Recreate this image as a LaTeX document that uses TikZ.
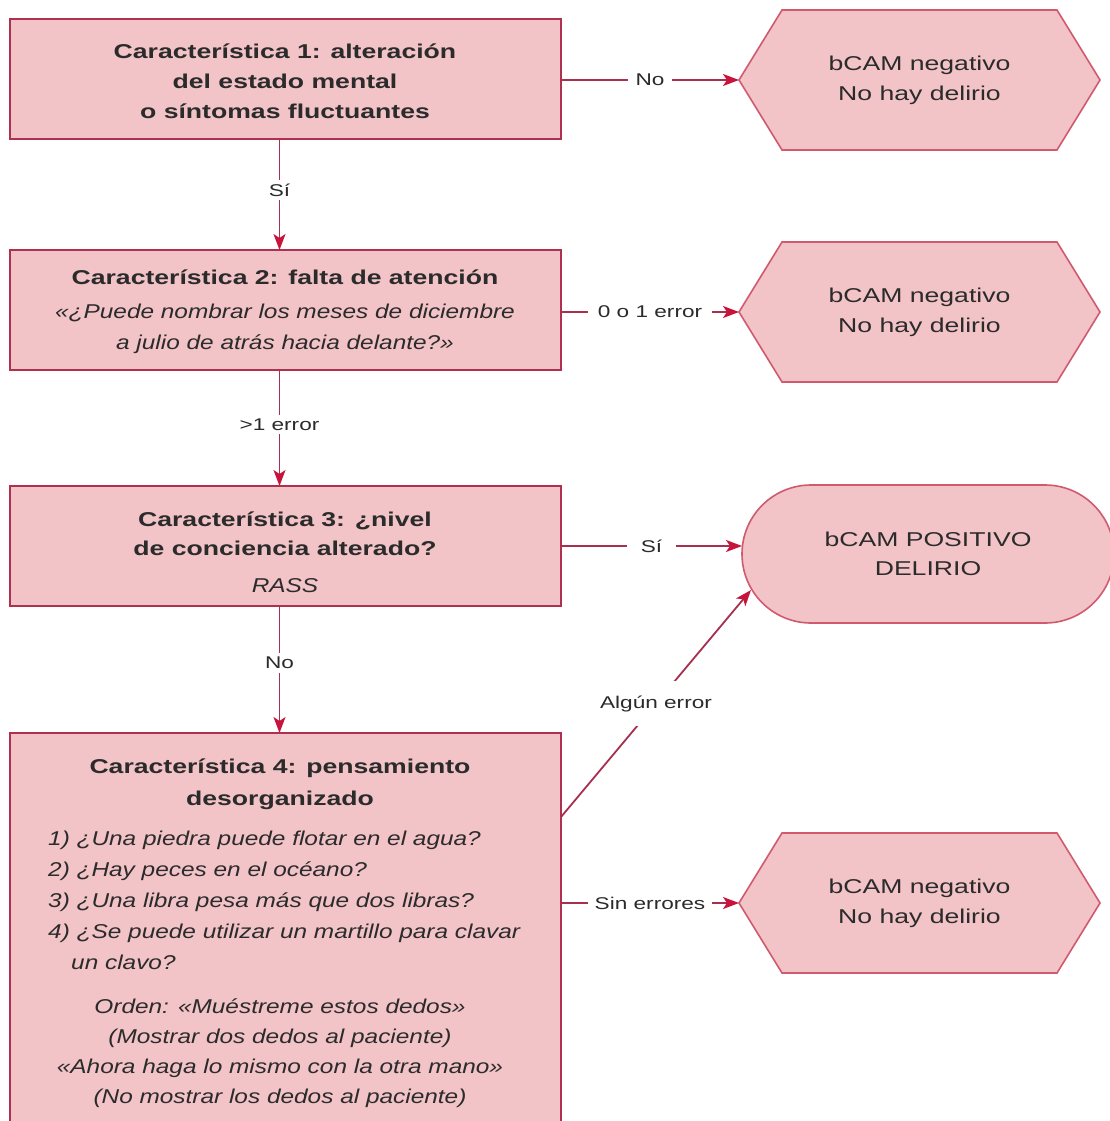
\documentclass[tikz,border=0pt]{standalone}
\usepackage{fontspec}
\setmainfont{Liberation Sans}[FakeStretch=1.33]
\newfontfamily\itf{Liberation Sans}[FakeStretch=1.22]
\usetikzlibrary{arrows.meta,shapes.misc,backgrounds}
\definecolor{fillc}{HTML}{F2C3C7}
\definecolor{boxc}{HTML}{B03050}
\definecolor{hexc}{HTML}{D05A6E}
\definecolor{linec}{HTML}{A8304F}
\definecolor{tipc}{HTML}{C8143C}
\definecolor{txtc}{HTML}{2B2B2B}
\begin{document}
\begin{tikzpicture}[x=1pt,y=-1pt,
 box/.style={draw=boxc,fill=fillc,line width=2pt,minimum width=551pt,minimum height=120pt,inner sep=0pt,outer sep=0pt},
 hexnode/.style={minimum width=361pt,minimum height=140pt,inner sep=0pt,outer sep=0pt,align=center,text=txtc,font=\fontsize{20}{30}\selectfont},
 hexfill/.style={draw=hexc,fill=fillc,line width=1.6pt,line join=miter},
 endnode/.style={rounded rectangle,draw=hexc,fill=fillc,line width=1.6pt,minimum width=372pt,minimum height=138pt,inner sep=0pt,outer sep=0pt,align=center,text=txtc,font=\fontsize{20}{29}\selectfont},
 btext/.style={align=center,text=txtc,inner sep=0pt},
 arr/.style={draw=linec,line width=1.8pt,-{Stealth[length=16pt,width=12pt,inset=4pt,color=tipc]}},
 lbl/.style={fill=white,text=txtc,font=\fontsize{17}{20}\selectfont,inner xsep=8pt,inner ysep=4pt},
]
\useasboundingbox (0,0) rectangle (1110,1121);
\begin{scope}[on background layer]
 \fill[white] (0,0) rectangle (1110,1121);
\end{scope}

% left boxes
\node[box] (b1) at (285.5,79) {};
\node[box] (b2) at (285.5,310) {};
\node[box] (b3) at (285.5,546) {};
\node[box,minimum height=410pt] (b4) at (285.5,938) {};

% box texts
\node[btext,font=\bfseries\fontsize{20}{30}\selectfont] (t1) at (285,81)
 {Característica 1: alteración\\del estado mental\\o síntomas fluctuantes};
\node[btext,font=\fontsize{20}{31}\selectfont] (t2) at (285,312)
 {{\bfseries Característica 2: falta de atención}\\[3pt]{\itf\itshape «¿Puede nombrar los meses de diciembre}\\{\itf\itshape a julio de atrás hacia delante?»}};
\node[btext,font=\fontsize{20}{29}\selectfont] (t3) at (285,552)
 {{\bfseries Característica 3: ¿nivel}\\{\bfseries de conciencia alterado?}\\[8pt]{\itf\itshape RASS}};
\node[btext,font=\bfseries\fontsize{20}{32}\selectfont] (t4a) at (280,784)
 {Característica 4: pensamiento\\desorganizado};
\node[btext,anchor=west,align=left,font=\itf\itshape\fontsize{20}{31}\selectfont] (t4b) at (48,900)
 {1) ¿Una piedra puede flotar en el agua?\\2) ¿Hay peces en el océano?\\3) ¿Una libra pesa más que dos libras?\\4) ¿Se puede utilizar un martillo para clavar\\\hspace*{23pt}un clavo?};
\node[btext,font=\itf\itshape\fontsize{20}{30}\selectfont] (t4c) at (280,1053)
 {Orden: «Muéstreme estos dedos»\\(Mostrar dos dedos al paciente)\\«Ahora haga lo mismo con la otra mano»\\(No mostrar los dedos al paciente)};

% right outcome nodes
\node[hexnode] (h1) at (919.5,80) {bCAM negativo\\No hay delirio};
\node[hexnode] (h2) at (919.5,312) {bCAM negativo\\No hay delirio};
\node[hexnode] (h3) at (919.5,903) {bCAM negativo\\No hay delirio};
\node[endnode] (pos) at (928,554) {bCAM POSITIVO\\DELIRIO};

\begin{scope}[on background layer]
 \foreach \h in {h1,h2,h3}
  \path[hexfill] (\h.west) -- ([xshift=43pt]\h.north west) -- ([xshift=-43pt]\h.north east)
   -- (\h.east) -- ([xshift=-43pt]\h.south east) -- ([xshift=43pt]\h.south west) -- cycle;
\end{scope}

% connectors
\draw[arr] ([xshift=-6pt]b1.south) -- node[lbl,pos=0.46]{Sí} ([xshift=-6pt]b2.north);
\draw[arr] ([xshift=-6pt]b2.south) -- node[lbl,pos=0.47]{>1 error} ([xshift=-6pt]b3.north);
\draw[arr] ([xshift=-6pt]b3.south) -- node[lbl,pos=0.45]{No} ([xshift=-6pt]b4.north);

\draw[arr] (b1.east |- h1.west) -- node[lbl]{No} (h1.west);
\draw[arr] (b2.east |- h2.west) -- node[lbl,inner xsep=10pt]{0 o 1 error} (h2.west);
\draw[arr] (b3.east) -- node[lbl,inner xsep=14pt]{Sí} (b3.east -| pos.west);
\draw[arr] ([yshift=-84pt]b4.north east) -- node[lbl,inner ysep=14pt,inner xsep=2pt]{Algún error} ([xshift=9pt,yshift=-36pt]pos.west);
\draw[arr] (b4.east |- h3.west) -- node[lbl,inner xsep=7pt]{Sin errores} (h3.west);
\end{tikzpicture}
\end{document}
